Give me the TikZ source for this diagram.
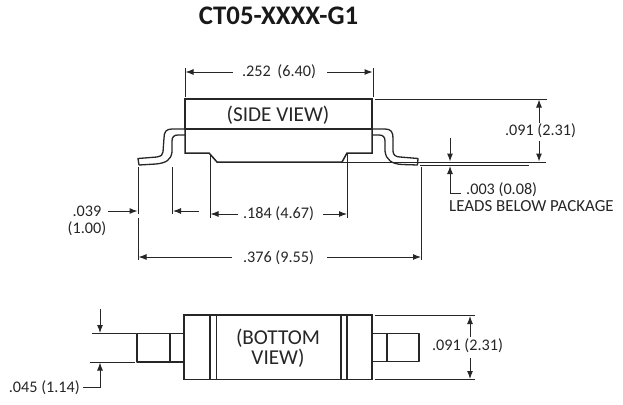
\documentclass[tikz,border=0pt]{standalone}
\usepackage{fontspec}
\setmainfont{Carlito}
\usepackage{tikz}
\usetikzlibrary{arrows.meta}

\begin{document}
\begin{tikzpicture}[
  x=1pt, y=-1pt,
  body/.style={draw=black!85, line width=1.5pt, line join=miter},
  lead/.style={draw=black!85, line width=1.3pt, line join=round},
  extline/.style={draw=black!85, line width=1pt},
  dimarrow/.style={-{Latex[length=8pt,width=6pt]}, draw=black!85, line width=1pt},
  dimlabel/.style={font=\fontsize{16.2}{17}\selectfont, text=black!85, inner sep=0pt, align=center},
  viewlabel/.style={font=\fontsize{21.2}{20.5}\selectfont, text=black!85, inner sep=0pt, align=center}
]
\useasboundingbox (0,0) rectangle (623,404);

% Title
\node[font=\fontsize{26.8}{28}\selectfont\bfseries, text=black!90, inner sep=0pt] (title) at (278.5,16) {CT05-XXXX-G1};

% Side view
\draw[body] (185,99) rectangle (372,129);
\draw[body] (185,129) -- (185,153) -- (209,153) -- (217,162) -- (342,162) -- (347,153) -- (372,153) -- (372,129);
\node[viewlabel] (sideview) at (278,115) {(SIDE VIEW)};

% Leads
\draw[lead] (185,129) -- (172,129) .. controls (166,129) and (164,132) .. (164,138)
  -- (163,152) .. controls (163,155) and (161,156) .. (157,157) -- (138,158.5) -- (139,165)
  -- (156,164) .. controls (166,163) and (171,160) .. (172,152) -- (172,141)
  .. controls (172,137) and (174,135) .. (178,135) -- (185,135);
\draw[lead] (372,129) -- (385,129) .. controls (391,129) and (393,132) .. (393,138)
  -- (393,151) .. controls (393,155) and (396,157) .. (400,157) -- (418,158.5) -- (417.5,165)
  -- (402,164.5) .. controls (392,164) and (386,160) .. (385,151) -- (385,141)
  .. controls (385,137) and (383,135) .. (379,135) -- (372,135);

% Top dimension
\draw[extline] (185,68) -- (185,97);
\draw[extline] (373,68) -- (373,97);
\node[dimlabel] (wtop) at (279,72) {.252\hspace{3pt} (6.40)};
\draw[dimarrow] (233,72) -- (185.5,72);
\draw[dimarrow] (327,72) -- (372.5,72);

% Height dimension
\draw[extline] (375,99) -- (547,99);
\draw[extline] (342,162) -- (546,162);
\draw[extline] (420,165.5) -- (529,165.5);
\node[dimlabel] (hside) at (540.5,131) {.091 (2.31)};
\draw[dimarrow] (539,123) -- (539,99.5);
\draw[dimarrow] (539,141) -- (539,161.5);

% Leads below package
\draw[dimarrow] (450,138) -- (450,161.5);
\coordinate (elbow) at (450,193);
\draw[dimarrow] (461,193) -- (elbow) -- (450,166);
\node[dimlabel, anchor=west] (gap) at (466,189.5) {.003 (0.08)};
\node[dimlabel, font=\fontsize{16.9}{17}\selectfont, anchor=west] (leads) at (449,206.5) {LEADS BELOW PACKAGE};

% Dimensions under side view
\draw[extline] (138,167) -- (138,214);
\draw[extline] (138,218) -- (138,260);
\draw[extline] (172.5,167) -- (172.5,214);
\draw[extline] (210,155) -- (210,218);
\draw[extline] (347.5,154) -- (347.5,218);
\draw[extline] (421.5,167) -- (421.5,260);

\node[dimlabel] (lead) at (87,220.5) {.039\\(1.00)};
\draw[dimarrow] (108,211) -- (137.5,211);
\draw[dimarrow] (199,211) -- (173,211);

\node[dimlabel] (inner) at (278.5,213.5) {.184 (4.67)};
\draw[dimarrow] (238,214) -- (210.5,214);
\draw[dimarrow] (323,214) -- (347,214);

\node[dimlabel] (overall) at (278.5,258) {.376 (9.55)};
\draw[dimarrow] (232,257) -- (138.5,257);
\draw[dimarrow] (327,257) -- (421,257);

% Bottom view
\draw[body] (184,315) rectangle (372,379.5);
\draw[body] (210,315) -- (210,379.5);
\draw[body] (216.5,315) -- (216.5,379.5);
\draw[body] (341,315) -- (341,379.5);
\draw[body] (347,315) -- (347,379.5);
\node[viewlabel] (bottomview) at (278,348) {(BOTTOM\\VIEW)};

\draw[lead] (184,333.5) -- (137,333.5) -- (137,362) -- (184,362);
\draw[lead] (170,333.5) -- (170,362);
\draw[lead] (372,333.5) -- (419,333.5) -- (419,361.5) -- (372,361.5);
\draw[lead] (387,333.5) -- (387,361.5);

% Lead width dimension
\draw[extline] (92,333.5) -- (136,333.5);
\draw[extline] (89.5,362) -- (135,362);
\draw[dimarrow] (100,309) -- (100,333);
\coordinate (elbowb) at (100,387);
\draw[dimarrow] (83,387) -- (elbowb) -- (100,362.5);
\node[dimlabel, anchor=east] (wlead) at (80,388) {.045 (1.14)};

% Bottom height dimension
\draw[extline] (374.5,315.5) -- (475,315.5);
\draw[extline] (374.5,379.5) -- (475,379.5);
\node[dimlabel] (hbottom) at (467.5,346) {.091 (2.31)};
\draw[dimarrow] (470,337) -- (470,316);
\draw[dimarrow] (470,358) -- (470,379);

\end{tikzpicture}
\end{document}
